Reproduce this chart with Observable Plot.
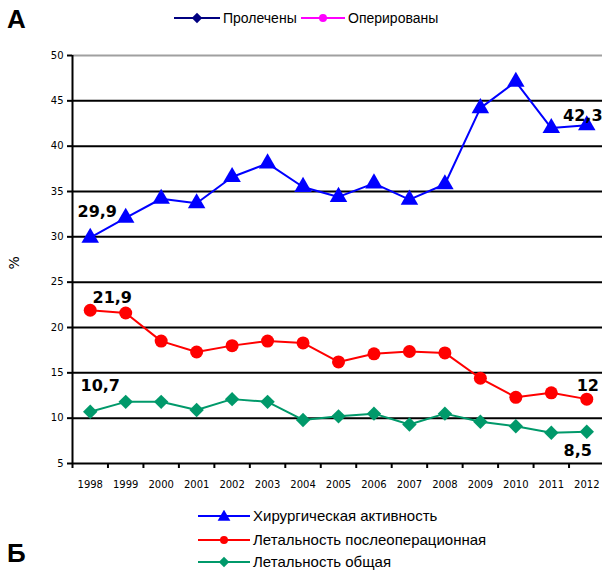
<!DOCTYPE html>
<html><head><meta charset="utf-8">
<script src="https://cdn.jsdelivr.net/npm/d3@7"></script>
<script src="https://cdn.jsdelivr.net/npm/@observablehq/plot@0.6"></script>
<style>
body{margin:0;background:#fff;font-family:"DejaVu Sans",sans-serif;}
#wrap{position:relative;width:602px;height:570px;overflow:hidden;}
#chart{position:absolute;left:0;top:0;}
.big{position:absolute;font:bold 26px/1 "Liberation Sans",Arial,sans-serif;}
.leg{position:absolute;font-size:13px;display:flex;align-items:center;white-space:nowrap;}
.leg svg{margin-right:3px;}
</style></head>
<body><div id="wrap"><div id="chart"></div></div>
<script>
const years = [1998,1999,2000,2001,2002,2003,2004,2005,2006,2007,2008,2009,2010,2011,2012];
const surgicalActivity = [29.9,32.1,34.2,33.7,36.6,38.1,35.5,34.4,35.9,34.1,35.8,44.2,47.1,42.0,42.3];
const postopMortality = [21.9,21.6,18.5,17.3,18.0,18.5,18.3,16.2,17.1,17.35,17.2,14.4,12.3,12.8,12.1];
const totalMortality = [10.7,11.8,11.8,10.9,12.1,11.8,9.8,10.2,10.5,9.3,10.5,9.6,9.1,8.4,8.5];
const yTicks = [5,10,15,20,25,30,35,40,45,50];
const seriesNames = ["Хирургическая активность","Летальность послеоперационная","Летальность общая"];
const topLegendNames = ["Пролечены","Оперированы"];
const labelTexts = {s1:["29,9","42,3"], s2:["21,9","12"], s3:["10,7","8,5"]};

const mk = (vals) => years.map((y,i)=>({year:y, value:vals[i]}));
const s1 = mk(surgicalActivity), s2 = mk(postopMortality), s3 = mk(totalMortality);
const bounds = d3.range(1997.5, 2013, 1);
const blue="#0000ff", red="#ff0000", green="#00996a";
const lab = {fontSize:16, fontWeight:"bold", fill:"#000", fontFamily:"DejaVu Sans"};

const chart = Plot.plot({
  width:602, height:500, marginTop:55, marginBottom:37, marginLeft:72, marginRight:-2,
  style:{fontFamily:"DejaVu Sans", fontSize:"10px", background:"transparent", overflow:"visible"},
  x:{domain:[1997.5,2012.5]},
  y:{domain:[5,50]},
  marks:[
    Plot.ruleY(yTicks.filter(t=>t>5 && t<50), {stroke:"#000", strokeWidth:2}),
    Plot.ruleY([50], {stroke:"#a0a0a0", strokeWidth:2}),
    Plot.ruleY([5], {stroke:"#000", strokeWidth:2}),
    Plot.ruleX([1997.5], {stroke:"#000", strokeWidth:2}),
    Plot.axisY({ticks:yTicks, tickSize:5, tickPadding:4, label:null, stroke:"#000", strokeWidth:2, fill:"#000"}),
    Plot.axisX({ticks:years, tickSize:0, tickPadding:17, tickFormat:d=>String(d), label:null, fill:"#000"}),
    Plot.axisX({ticks:bounds, tickSize:5, tickFormat:()=>"", label:null, stroke:"#000", strokeWidth:2}),
    Plot.text(["%"], {frameAnchor:"left", dx:-58, dy:10, rotate:-90, fontSize:14, fill:"#000"}),
    Plot.line(s1, {x:"year", y:"value", stroke:blue, strokeWidth:2}),
    Plot.dot(s1, {x:"year", y:"value", symbol:"triangle", r:6.5, fill:blue, stroke:null}),
    Plot.line(s2, {x:"year", y:"value", stroke:red, strokeWidth:2}),
    Plot.dot(s2, {x:"year", y:"value", symbol:"circle", r:6.5, fill:red, stroke:null}),
    Plot.line(s3, {x:"year", y:"value", stroke:green, strokeWidth:2}),
    Plot.dot(s3, {x:"year", y:"value", symbol:"diamond2", r:6.5, fill:green, stroke:null}),
    Plot.text([s1[0]], {x:"year", y:"value", text:()=>labelTexts.s1[0], dx:7, dy:-26, ...lab}),
    Plot.text([s1[14]], {x:"year", y:"value", text:()=>labelTexts.s1[1], dx:-4, dy:-9, ...lab}),
    Plot.text([s2[0]], {x:"year", y:"value", text:()=>labelTexts.s2[0], dx:22, dy:-12, ...lab}),
    Plot.text([s2[14]], {x:"year", y:"value", text:()=>labelTexts.s2[1], dx:1, dy:-13, ...lab}),
    Plot.text([s3[0]], {x:"year", y:"value", text:()=>labelTexts.s3[0], dx:10, dy:-26, ...lab}),
    Plot.text([s3[14]], {x:"year", y:"value", text:()=>labelTexts.s3[1], dx:-9, dy:19, ...lab})
  ]
});
document.getElementById("chart").appendChild(chart);

const wrap = document.getElementById("wrap");
function addBig(txt, left, top){const d=document.createElement("div");d.className="big";d.textContent=txt;d.style.left=left+"px";d.style.top=top+"px";wrap.appendChild(d);}
addBig("А", 7, 6);
addBig("Б", 7, 540);

function sym(type, color, w){
  const s = d3.create("svg").attr("width",w).attr("height",12);
  s.append("line").attr("x1",0).attr("x2",w).attr("y1",6).attr("y2",6).attr("stroke",color).attr("stroke-width",2);
  const p = d3.symbol().type(type).size(type===d3.symbolCircle?50:70)();
  s.append("path").attr("d",p).attr("transform",`translate(${w/2},${type===d3.symbolTriangle?7:6})`).attr("fill",color);
  return s.node();
}
function addLeg(type,color,w,text,left,top,size,font){
  const d=document.createElement("div");d.className="leg";d.style.left=left+"px";d.style.top=top+"px";
  if(size) d.style.fontSize=size+"px";
  if(font) d.style.fontFamily=font;
  d.appendChild(sym(type,color,w));
  const t=document.createElement("span");t.textContent=text;d.appendChild(t);wrap.appendChild(d);
}
const lf = '"Liberation Sans",Arial,sans-serif';
addLeg(d3.symbolDiamond2,"#000080",46,topLegendNames[0],174,10,14,lf);
addLeg(d3.symbolCircle,"#ff00ff",44,topLegendNames[1],301,10,14,lf);
addLeg(d3.symbolTriangle,blue,52,seriesNames[0],198,507,15,lf);
addLeg(d3.symbolCircle,red,52,seriesNames[1],198,531,15,lf);
addLeg(d3.symbolDiamond2,green,52,seriesNames[2],198,553,15,lf);
</script></body></html>
